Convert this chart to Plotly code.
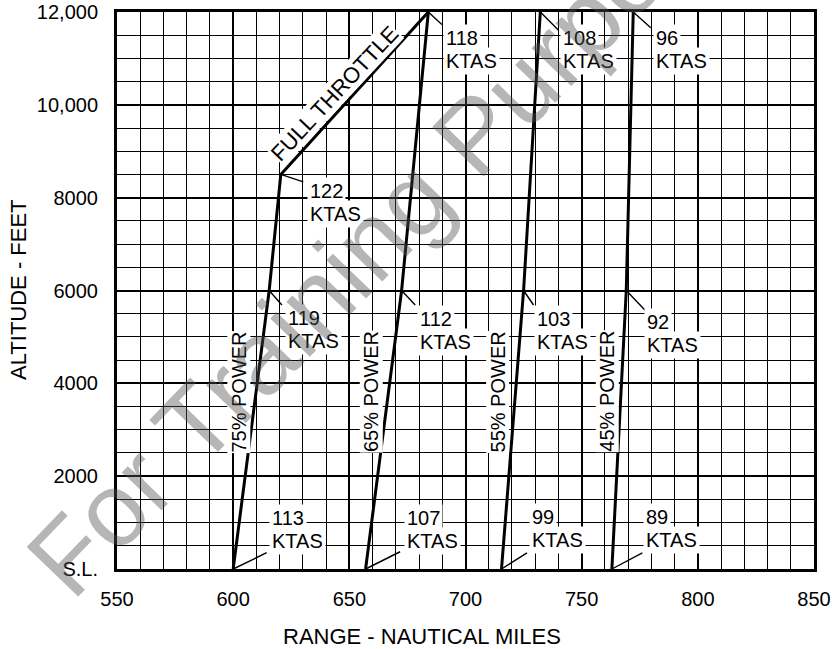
import plotly.graph_objects as go

# ---- data (range in nautical miles vs altitude in feet) ----
alt_75 = [0, 6000, 8500]
rng_75 = [600, 615.5, 620.5]
ktas_75 = [113, 119, 122]

alt_ft = [8500, 12000]          # full throttle line
rng_ft = [620.5, 684]

alt_65 = [0, 6000, 12000]
rng_65 = [657, 672.5, 684]
ktas_65 = [107, 112, 118]

alt_55 = [0, 6000, 12000]
rng_55 = [715.5, 725, 732.2]
ktas_55 = [99, 103, 108]

alt_45 = [0, 6000, 12000]
rng_45 = [763, 769.2, 772.2]
ktas_45 = [89, 92, 96]

power_names = ["75% POWER", "65% POWER", "55% POWER", "45% POWER"]
y_tickvals = [0, 2000, 4000, 6000, 8000, 10000, 12000]
y_ticktext = ["S.L.", "2000", "4000", "6000", "8000", "10,000", "12,000"]
x_tickvals = [550, 600, 650, 700, 750, 800, 850]

FONT = "Liberation Sans, Arial, Helvetica, sans-serif"
LBL = 20      # label font size
LINE = 23     # spacing between the two label lines (px)
fig = go.Figure()

for r, a in [(rng_75, alt_75), (rng_ft, alt_ft), (rng_65, alt_65),
             (rng_55, alt_55), (rng_45, alt_45)]:
    fig.add_trace(go.Scatter(x=r, y=a, mode="lines",
                             line=dict(color="black", width=3),
                             showlegend=False, hoverinfo="skip"))

leaders = []
texts = []

# pixel offsets from each point: (leader end), (top-left of number box)
style = {
    "75": [((35, -17), (36, -65)), ((14, 16), (16, 13)), ((24, 8), (26, 3))],
    "65": [((36, -18), (38, -65)), ((15, 16), (15, 14)), ((15, 14), (15, 12))],
    "55": [((27, -17), (27, -66)), ((11, 16), (10, 14)), ((20, 20), (20, 12))],
    "45": [((32, -17), (31, -66)), ((20, 21), (18, 17)), ((19, 17), (20, 12))],
}
series = [("75", rng_75, alt_75, ktas_75), ("65", rng_65, alt_65, ktas_65),
          ("55", rng_55, alt_55, ktas_55), ("45", rng_45, alt_45, ktas_45)]
for key, r, a, k in series:
    for i in range(3):
        (lx, ly), (tx, ty) = style[key][i]
        leaders.append(dict(x=r[i], y=a[i], xref="x", yref="y", text="",
                            showarrow=True, arrowhead=0, arrowwidth=1.4,
                            arrowcolor="black", standoff=0, ax=lx, ay=ly))
        for j, line in enumerate([str(k[i]), "KTAS"]):
            texts.append(dict(x=r[i], y=a[i], xref="x", yref="y", text=line,
                              showarrow=False, xanchor="left", yanchor="top",
                              xshift=tx, yshift=-(ty + j * LINE),
                              bgcolor="white", borderpad=2,
                              font=dict(family=FONT, size=LBL, color="black")))

annotations = leaders + texts

# power labels (vertical)
power_pos = [(602.6, 3805), (659.4, 3815), (713.8, 3815), (761.1, 3830)]
for name, (px, py) in zip(power_names, power_pos):
    annotations.append(dict(x=px, y=py, xref="x", yref="y", text=name,
                            showarrow=False, textangle=-90,
                            bgcolor="white", borderpad=0,
                            font=dict(family=FONT, size=20, color="black")))

annotations.append(dict(x=643.6, y=10250, xref="x", yref="y",
                        text="FULL THROTTLE", showarrow=False, textangle=-47,
                        bgcolor="white", borderpad=0,
                        font=dict(family=FONT, size=22, color="black")))

# axis titles
annotations.append(dict(x=0.4376, y=-0.122, xref="paper", yref="paper",
                        xanchor="center", yanchor="middle",
                        text="RANGE - NAUTICAL MILES", showarrow=False,
                        font=dict(family=FONT, size=22, color="black")))
annotations.append(dict(x=-0.1406, y=0.501, xref="paper", yref="paper",
                        xanchor="center", yanchor="middle",
                        text="ALTITUDE - FEET", showarrow=False, textangle=-90,
                        font=dict(family=FONT, size=22, color="black")))

# watermark
annotations.append(dict(x=0.408, y=0.645, xref="paper", yref="paper",
                        xanchor="center", yanchor="middle",
                        text="For Training Purposes", showarrow=False,
                        textangle=-46,
                        font=dict(family=FONT, size=104,
                                  color="rgba(80,80,80,0.42)")))

axis_common = dict(showline=True, mirror=True, linecolor="black", linewidth=3,
                   showgrid=True, gridcolor="black", gridwidth=2,
                   zeroline=False, ticks="", automargin=False,
                   ticklabeloverflow="allow",
                   tickfont=dict(family=FONT, size=20, color="black"))

fig.update_layout(
    width=832, height=649,
    margin=dict(l=117, r=18, t=12, b=80),
    paper_bgcolor="white", plot_bgcolor="white",
    annotations=annotations,
    xaxis=dict(range=[550, 850], tickvals=x_tickvals,
               ticklabelstandoff=10,
               minor=dict(dtick=10, showgrid=True, gridcolor="black",
                          gridwidth=1),
               **axis_common),
    yaxis=dict(range=[0, 12000], tickvals=y_tickvals, ticktext=y_ticktext,
               ticklabelstandoff=12,
               minor=dict(dtick=500, showgrid=True, gridcolor="black",
                          gridwidth=1),
               **axis_common),
)

fig.write_html("out.html",
               config={"displayModeBar": False},
               post_script="document.body.style.margin='0px';"
                           "document.body.style.overflow='hidden';")
